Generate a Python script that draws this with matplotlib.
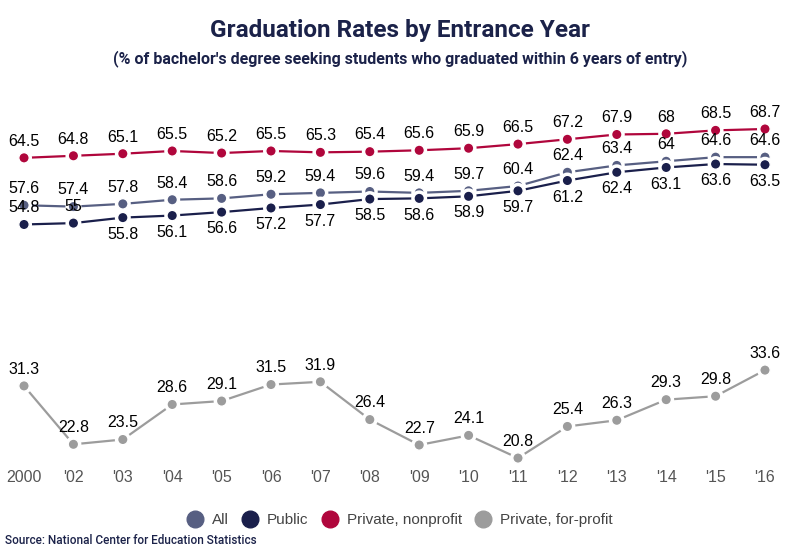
import matplotlib.pyplot as plt
import matplotlib.patheffects as pe
from matplotlib.lines import Line2D

# data
years = ["2000", "'02", "'03", "'04", "'05", "'06", "'07", "'08",
         "'09", "'10", "'11", "'12", "'13", "'14", "'15", "'16"]
all_rates = [57.6, 57.4, 57.8, 58.4, 58.6, 59.2, 59.4, 59.6, 59.4, 59.7, 60.4, 62.4, 63.4, 64, 64.6, 64.6]
public = [54.8, 55, 55.8, 56.1, 56.6, 57.2, 57.7, 58.5, 58.6, 58.9, 59.7, 61.2, 62.4, 63.1, 63.6, 63.5]
nonprofit = [64.5, 64.8, 65.1, 65.5, 65.2, 65.5, 65.3, 65.4, 65.6, 65.9, 66.5, 67.2, 67.9, 68, 68.5, 68.7]
forprofit = [31.3, 22.8, 23.5, 28.6, 29.1, 31.5, 31.9, 26.4, 22.7, 24.1, 20.8, 25.4, 26.3, 29.3, 29.8, 33.6]

names = ["All", "Public", "Private, nonprofit", "Private, for-profit"]
colors = ["#575f82", "#1a1f4b", "#b0063c", "#9c9c9c"]
navy = "#1b2249"

fig = plt.figure(figsize=(8, 5.5), dpi=100)
fig.patch.set_facecolor("white")
ax = fig.add_axes([9.2 / 800, 0.1547, 770.6 / 800, 0.6395])

x = list(range(len(years)))
series = [all_rates, public, nonprofit, forprofit]

for vals, col in zip(series, colors):
    ax.plot(x, vals, color=col, lw=1.6, marker="o", ms=7.5,
            mfc=col, mec="white", mew=1.0, zorder=3,
            path_effects=[pe.Stroke(linewidth=4, foreground="white"), pe.Normal()])

# value labels (public goes below the line except the first two)
for i, (vals, col) in enumerate(zip(series, colors)):
    for j, v in enumerate(vals):
        dy = 12
        if i == 1 and j >= 2:
            dy = -12
        ax.annotate(f"{v:g}", (j, v), xytext=(0, dy), textcoords="offset points",
                    ha="center", va="center", fontsize=11.5,
                    family="Liberation Sans", color="black", zorder=5)

ax.set_xlim(-0.3, 15.3)
ax.set_ylim(19.8, 71)
ax.set_xticks(x)
ax.set_xticklabels(years, family="Liberation Sans", fontsize=11.5, color="#555555")
ax.tick_params(axis="x", length=0, pad=4)
ax.set_yticks([])
for s in ax.spines.values():
    s.set_visible(False)

fig.text(0.5, 1 - 30 / 550, "Graduation Rates by Entrance Year", ha="center", va="center",
         fontsize=17.5, fontweight="bold", family="Roboto", color=navy)
fig.text(0.5, 1 - 59 / 550, "(% of bachelor's degree seeking students who graduated within 6 years of entry)",
         ha="center", va="center", fontsize=11.5, fontweight="bold", family="Roboto", color=navy)

handles = [Line2D([], [], ls="none", marker="o", ms=12, mfc=c, mec=c) for c in colors]
fig.legend(handles, names, loc="center", bbox_to_anchor=(0.5, 1 - 520 / 550), ncol=4,
           frameon=False, handlelength=1.0, handletextpad=0.6, columnspacing=0.9,
           prop={"family": "Liberation Sans", "size": 11}, labelcolor="#444444")

fig.text(5 / 800, 1 - 540 / 550, "Source: National Center for Education Statistics",
         ha="left", va="center", fontsize=8.5, fontweight="medium", family="Roboto", color=navy)

fig.savefig("out.png", dpi=100)
